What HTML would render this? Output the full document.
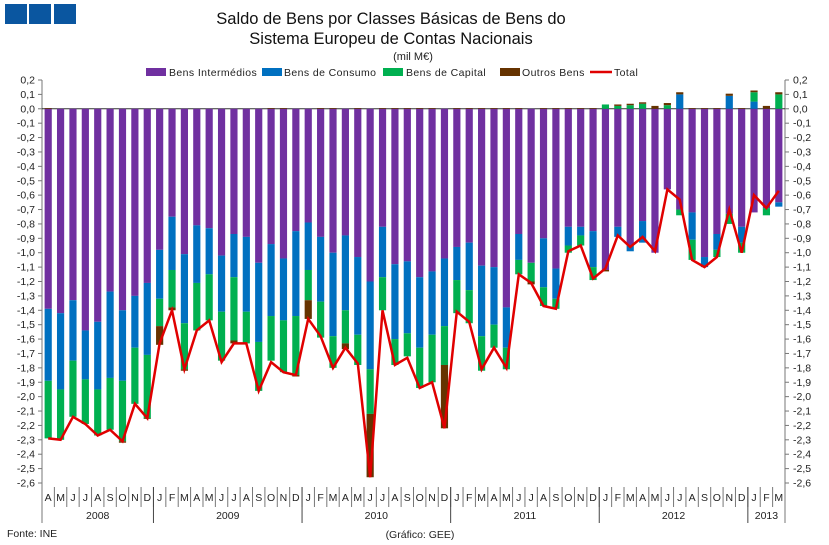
<!DOCTYPE html>
<html><head><meta charset="utf-8"><style>
body{margin:0;background:#fff;}
svg{display:block;font-family:"Liberation Sans",Arial,sans-serif;}
</style></head><body>
<svg id="chart" width="829" height="545" viewBox="0 0 829 545">
<g>
<rect x="5" y="4" width="22" height="20" fill="#0A56A0"/><rect x="29" y="4" width="22" height="20" fill="#0A56A0"/><rect x="54" y="4" width="22" height="20" fill="#0A56A0"/>
</g>
<text x="391" y="24" text-anchor="middle" font-size="16.5" fill="#111">Saldo de Bens por Classes Básicas de Bens do</text>
<text x="391" y="44" text-anchor="middle" font-size="16.5" fill="#111">Sistema Europeu de Contas Nacionais</text>
<text x="413" y="60" text-anchor="middle" font-size="11" fill="#222">(mil M€)</text>
<g font-size="10.5" fill="#222" letter-spacing="0.4">
<g><rect x="146" y="68" width="20" height="8" fill="#7030A0"/><text x="169" y="76">Bens Intermédios</text></g>
<g><rect x="262" y="68" width="20" height="8" fill="#0070C0"/><text x="284" y="76">Bens de Consumo</text></g>
<g><rect x="383" y="68" width="20" height="8" fill="#00B050"/><text x="406" y="76">Bens de Capital</text></g>
<g><rect x="500" y="68" width="20" height="8" fill="#663300"/><text x="522" y="76">Outros Bens</text></g>
<g><line x1="590" y1="72" x2="612" y2="72" stroke="#E00000" stroke-width="2.5"/><text x="614" y="76">Total</text></g>
</g>
<g id="axes"></g>
<g id="bars"></g>
<g id="line"></g>
<g id="xaxis"></g>
<text x="7" y="537" font-size="10.5" fill="#222">Fonte: INE</text>
<text x="420" y="538" text-anchor="middle" font-size="10.5" fill="#222">(Gráfico:  GEE)</text>
</svg>
<script>
const months = ["A","M","J","J","A","S","O","N","D","J","F","M","A","M","J","J","A","S","O","N","D","J","F","M","A","M","J","J","A","S","O","N","D","J","F","M","A","M","J","J","A","S","O","N","D","J","F","M","A","M","J","J","A","S","O","N","D","J","F","M"];
const years = ["2008","2009","2010","2011","2012","2013"];
const yearCounts = [9,12,12,12,12,3];
const intermediate = [-1.39,-1.42,-1.33,-1.54,-1.48,-1.27,-1.40,-1.30,-1.21,-0.98,-0.75,-1.01,-0.81,-0.83,-1.02,-0.87,-0.89,-1.07,-0.94,-1.04,-0.85,-0.79,-0.89,-1.00,-0.88,-1.03,-1.20,-0.82,-1.08,-1.06,-1.17,-1.13,-1.04,-0.96,-0.93,-1.09,-1.10,-1.38,-0.87,-1.07,-0.90,-1.11,-0.82,-0.82,-0.85,-1.12,-0.82,-0.95,-0.78,-1.00,-0.56,-0.70,-0.72,-1.03,-0.87,-0.73,-0.82,-0.72,-0.69,-0.65];
const consumer = [-0.50,-0.53,-0.42,-0.34,-0.47,-0.60,-0.49,-0.36,-0.50,-0.34,-0.37,-0.48,-0.40,-0.32,-0.39,-0.30,-0.52,-0.55,-0.50,-0.43,-0.59,-0.33,-0.45,-0.58,-0.52,-0.54,-0.61,-0.35,-0.52,-0.50,-0.49,-0.44,-0.47,-0.23,-0.33,-0.49,-0.40,-0.28,-0.18,0,-0.34,-0.21,-0.13,-0.06,-0.25,0,-0.07,-0.04,-0.15,0,0,0.10,-0.19,-0.07,-0.11,0.09,-0.11,0.05,0,-0.03];
const capital = [-0.40,-0.35,-0.39,-0.31,-0.32,-0.36,-0.42,-0.39,-0.44,-0.19,-0.26,-0.32,-0.33,-0.32,-0.34,-0.44,-0.22,-0.34,-0.31,-0.36,-0.41,-0.21,-0.25,-0.22,-0.23,-0.21,-0.31,-0.23,-0.18,-0.16,-0.28,-0.33,-0.27,-0.23,-0.23,-0.24,-0.16,-0.15,-0.10,-0.13,-0.13,-0.07,-0.05,-0.07,-0.09,0.03,0.02,0.025,0.035,0,0.025,-0.04,-0.14,0,-0.05,-0.07,-0.07,0.065,-0.05,0.10];
const other = [0.005,0,0,0,0,0,-0.01,0,-0.005,-0.13,-0.02,-0.01,0,0,0,-0.02,0,0,0.005,0.005,-0.01,-0.13,0.005,0.005,-0.04,0.005,-0.44,0.005,0.005,0.005,0.005,0.005,-0.44,0.005,0.005,0.005,0.005,0.005,0.005,-0.02,0.005,0.005,0.005,0.005,0.005,-0.01,0.01,0.01,0.01,0.02,0.015,0.015,0.005,0.005,0.005,0.015,0.005,0.012,0.02,0.015];
const total = [-2.29,-2.30,-2.14,-2.19,-2.27,-2.23,-2.31,-2.05,-2.15,-1.63,-1.40,-1.81,-1.54,-1.47,-1.76,-1.63,-1.63,-1.96,-1.76,-1.83,-1.85,-1.46,-1.58,-1.80,-1.66,-1.77,-2.56,-1.40,-1.78,-1.73,-1.94,-1.90,-2.22,-1.41,-1.48,-1.81,-1.66,-1.80,-1.15,-1.21,-1.37,-1.39,-0.99,-0.95,-1.18,-1.11,-0.88,-0.96,-0.89,-0.99,-0.56,-0.63,-1.05,-1.10,-1.03,-0.70,-1.00,-0.60,-0.69,-0.57];
const yTicks = [0.2,0.1,0,-0.1,-0.2,-0.3,-0.4,-0.5,-0.6,-0.7,-0.8,-0.9,-1.0,-1.1,-1.2,-1.3,-1.4,-1.5,-1.6,-1.7,-1.8,-1.9,-2.0,-2.1,-2.2,-2.3,-2.4,-2.5,-2.6];

const NS="http://www.w3.org/2000/svg";
const X0=42, X1=785, YMAX=0.2, YMIN=-2.6, YT=80, YB=483;
const n=months.length, step=(X1-X0)/n;
const y=v=>YT+(YMAX-v)/(YMAX-YMIN)*(YB-YT);
const xc=i=>X0+step*(i+0.5);
function mk(tag,attrs,parent){const e=document.createElementNS(NS,tag);for(const k in attrs)e.setAttribute(k,attrs[k]);parent.appendChild(e);return e;}
const axes=document.getElementById('axes'), bars=document.getElementById('bars'), lineG=document.getElementById('line'), xa=document.getElementById('xaxis');

let el=mk('line',{x1:X0,y1:YT,x2:X0,y2:523,stroke:'#777','stroke-width':1},axes);


el=mk('line',{x1:X1,y1:YT,x2:X1,y2:523,stroke:'#777','stroke-width':1},axes);


yTicks.forEach(v=>{
  const yy=y(v);
  mk('line',{x1:X0-4,y1:yy,x2:X0,y2:yy,stroke:'#777'},axes);
  mk('line',{x1:X1,y1:yy,x2:X1+4,y2:yy,stroke:'#777'},axes);
  const s=v.toFixed(1).replace('.',',').replace('-0,0','0,0');
  let t=mk('text',{x:X0-7,y:yy+3.5,'text-anchor':'end','font-size':10.5,fill:'#222'},axes);t.textContent=s;
  
  
  t=mk('text',{x:X1+8,y:yy+3.5,'font-size':10.5,fill:'#222'},axes);t.textContent=s;
  
  
});
const series=[[intermediate,'#7030A0','intermediate'],[consumer,'#0070C0','consumer'],[capital,'#00B050','capital'],[other,'#663300','other']];
const bw=step*0.58;
for(let i=0;i<n;i++){
  let pos=0,neg=0;
  series.forEach(([arr,col,nm])=>{
    const v=arr[i]; if(!v) return;
    let a,b; if(v>0){a=pos;b=pos+v;pos=b;}else{a=neg;b=neg+v;neg=b;}
    const r=mk('rect',{x:xc(i)-bw/2,y:Math.min(y(a),y(b)),width:bw,height:Math.max(Math.abs(y(a)-y(b)),0.6),fill:col},bars);
    
    
  });
}
el=mk('line',{x1:X0,y1:y(0),x2:X1,y2:y(0),stroke:'#333','stroke-width':1},axes);


const pts=total.map((v,i)=>xc(i).toFixed(1)+','+y(v).toFixed(1)).join(' ');
el=mk('polyline',{points:pts,fill:'none',stroke:'#E00000','stroke-width':2.5,'stroke-linejoin':'miter'},lineG);


// x axis
months.forEach((m,i)=>{
  const t=mk('text',{x:xc(i),y:501,'text-anchor':'middle','font-size':10.5,fill:'#222'},xa);t.textContent=m;
  
  
  if(i>0) mk('line',{x1:X0+step*i,y1:487,x2:X0+step*i,y2:507,stroke:'#777'},xa);
});
let idx=0;
years.forEach((yr,k)=>{
  const x0=X0+step*idx, x1=X0+step*(idx+yearCounts[k]);
  if(idx>0) mk('line',{x1:x0,y1:487,x2:x0,y2:523,stroke:'#444'},xa);
  const t=mk('text',{x:(x0+x1)/2,y:519,'text-anchor':'middle','font-size':10.5,fill:'#222'},xa);t.textContent=yr;
  
  
  idx+=yearCounts[k];
});
</script>
</body></html>
